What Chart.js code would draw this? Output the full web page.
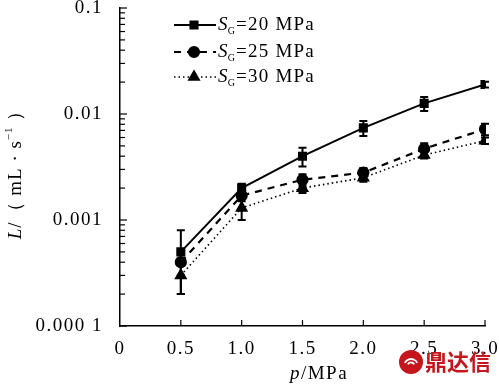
<!DOCTYPE html>
<html>
<head>
<meta charset="utf-8">
<script src="https://cdn.jsdelivr.net/npm/chart.js@4.4.1/dist/chart.umd.min.js"></script>
<style>
  html, body { margin: 0; padding: 0; background: #fff; }
  #wrap { width: 499px; height: 386px; position: relative; }
</style>
</head>
<body>
<div id="wrap"><canvas id="FlowChart"></canvas></div>
<script>
// pressure p / MPa
const pressures = [0.5, 1.0, 1.5, 2.0, 2.5, 3.0];

// leakage L / (mL/s) for each confining pressure S_G
const flow20 = [0.0005, 0.0020, 0.0040, 0.0074, 0.0126, 0.0190];
const err20 = [0.0003, 0.0002, 0.0008, 0.0012, 0.0019, 0.0012];
const flow25 = [0.0004, 0.0017, 0.0024, 0.0028, 0.0047, 0.0072];
const err25 = [0.0001, 0.0002, 0.0003, 0.0003, 0.0006, 0.0009];
const flow30 = [0.0003, 0.0013, 0.0020, 0.0025, 0.0041, 0.0056];
const err30 = [0.0001, 0.0003, 0.0002, 0.0002, 0.0003, 0.0004];

const seriesNames = ["20 MPa", "25 MPa", "30 MPa"];
const yTickLabels = { "0.1": "0.1", "0.01": "0.01", "0.001": "0.001", "0.0001": "0.000 1" };

const serif = "'Liberation Serif', 'DejaVu Serif', serif";

function toPoints(vals) {
  return vals.map((v, i) => ({ x: pressures[i], y: v }));
}

// the reference type is a wide Times, so spread the letters a little
const spacing = {
  id: "spacing",
  beforeLayout(chart) { chart.ctx.letterSpacing = "1.5px"; },
  beforeDraw(chart) { chart.ctx.letterSpacing = "1.5px"; },
};

// error bars, inward ticks, legend and axis titles
const extras = {
  id: "extras",
  afterDatasetsDraw(chart) {
    const c = chart.ctx;
    const xs = chart.scales.x;
    const ys = chart.scales.y;
    const area = chart.chartArea;
    const errs = [err20, err25, err30];

    c.save();
    c.strokeStyle = "#000";
    c.lineWidth = 2;
    c.setLineDash([]);
    chart.data.datasets.forEach((ds, k) => {
      ds.data.forEach((pt, i) => {
        const e = errs[k][i];
        const px = xs.getPixelForValue(pt.x);
        const top = ys.getPixelForValue(pt.y + e);
        const bot = ys.getPixelForValue(pt.y - e);
        c.beginPath();
        c.moveTo(px, top); c.lineTo(px, bot);
        c.moveTo(px - 4, top); c.lineTo(px + 4, top);
        c.moveTo(px - 4, bot); c.lineTo(px + 4, bot);
        c.stroke();
      });
    });

    // inward ticks
    c.lineWidth = 1.2;
    ys.ticks.forEach(t => {
      const py = ys.getPixelForValue(t.value);
      const major = t.label !== "";
      c.beginPath();
      c.moveTo(area.left, py);
      c.lineTo(area.left + (major ? 7 : 5), py);
      c.stroke();
    });
    xs.ticks.forEach(t => {
      if (t.value === 0) return;
      const px = xs.getPixelForValue(t.value);
      c.beginPath();
      c.moveTo(px, area.bottom);
      c.lineTo(px, area.bottom - 6);
      c.stroke();
    });

    // legend
    const rows = [25, 52, 77];
    chart.data.datasets.forEach((ds, k) => {
      const y = rows[k];
      c.strokeStyle = "#000";
      c.lineWidth = ds.borderWidth;
      c.setLineDash(ds.borderDash || []);
      c.beginPath();
      c.moveTo(174, y); c.lineTo(216, y);
      c.stroke();
      c.setLineDash([]);
      Chart.helpers.drawPoint(c, {
        pointStyle: ds.pointStyle, radius: ds.pointRadius, borderWidth: 1
      }, 194, y);
      c.fillStyle = "#000";
      c.textBaseline = "middle";
      c.letterSpacing = "1.2px";
      c.font = "italic 19px " + serif;
      c.fillText("S", 218, y);
      const sw = c.measureText("S").width;
      c.font = "10px " + serif;
      c.fillText("G", 218 + sw - 1, y + 6);
      const gw = c.measureText("G").width;
      c.font = "19px " + serif;
      c.fillText("=" + seriesNames[k], 218 + sw + gw - 1, y);
    });

    // x title
    c.fillStyle = "#000";
    c.textBaseline = "middle";
    c.letterSpacing = "1.5px";
    c.font = "italic 19px " + serif;
    const pw = c.measureText("p").width;
    c.font = "19px " + serif;
    const rest = "/MPa";
    const rw = c.measureText(rest).width;
    let x0 = 319 - (pw + rw) / 2;
    c.font = "italic 19px " + serif;
    c.fillText("p", x0, 374);
    c.font = "19px " + serif;
    c.fillText(rest, x0 + pw, 374);

    // y title
    c.translate(16, 170);
    c.rotate(-Math.PI / 2);
    c.letterSpacing = "1px";
    c.font = "italic 19px " + serif;
    const lw = c.measureText("L").width;
    c.font = "19px " + serif;
    const t1 = "/\uFF08 mL \u00B7 s";
    const t1w = c.measureText(t1).width;
    c.font = "11px " + serif;
    const supw = c.measureText("\u22121").width;
    c.font = "19px " + serif;
    const t2 = " \uFF09";
    const t2w = c.measureText(t2).width;
    let sx = -(lw + t1w + supw + t2w) / 2;
    c.font = "italic 19px " + serif;
    c.fillText("L", sx, 0); sx += lw;
    c.font = "19px " + serif;
    c.fillText(t1, sx, 0); sx += t1w;
    c.font = "11px " + serif;
    c.fillText("\u22121", sx, -7); sx += supw;
    c.font = "19px " + serif;
    c.fillText(t2, sx, 0);
    c.restore();

    // watermark
    c.save();
    c.letterSpacing = "0px";
    c.fillStyle = "#c4161c";
    c.beginPath();
    c.arc(411, 362, 12, 0, Math.PI * 2);
    c.fill();
    c.strokeStyle = "#fff";
    c.lineWidth = 1.8;
    c.beginPath();
    c.arc(411, 366, 7, Math.PI * 1.15, Math.PI * 1.85);
    c.stroke();
    c.beginPath();
    c.arc(411, 366, 3.5, Math.PI * 1.15, Math.PI * 1.85);
    c.stroke();
    c.font = "bold 22px 'Noto Sans CJK SC', sans-serif";
    c.textBaseline = "middle";
    c.fillText("\u9F0E\u8FBE\u4FE1", 425, 362);
    c.restore();
  }
};

const ctx = document.getElementById("FlowChart");

new Chart(ctx, {
  type: "line",
  data: {
    datasets: [
      {
        label: "SG=20 MPa",
        data: toPoints(flow20),
        borderColor: "#000",
        backgroundColor: "#000",
        borderWidth: 2,
        pointStyle: "rect",
        pointRadius: 5,
      },
      {
        label: "SG=25 MPa",
        data: toPoints(flow25),
        borderColor: "#000",
        backgroundColor: "#000",
        borderWidth: 2.2,
        borderDash: [7, 6],
        pointStyle: "circle",
        pointRadius: 5,
      },
      {
        label: "SG=30 MPa",
        data: toPoints(flow30),
        borderColor: "#000",
        backgroundColor: "#000",
        borderWidth: 1.6,
        borderDash: [1.5, 3],
        pointStyle: "triangle",
        pointRadius: 6,
      },
    ],
  },
  options: {
    responsive: true,
    maintainAspectRatio: false,
    animation: false,
    layout: { padding: { left: 0, right: 14, top: 8, bottom: 0 } },
    plugins: {
      legend: { display: false },
      tooltip: { enabled: false },
    },
    scales: {
      x: {
        type: "linear",
        min: 0,
        max: 3,
        grid: { display: false },
        border: { display: true, color: "#000", width: 1.5 },
        ticks: {
          stepSize: 0.5,
          color: "#000",
          padding: 4,
          font: { family: serif, size: 19 },
          callback: v => (v === 0 ? "0" : v.toFixed(1)),
        },
        afterFit: s => { s.height = 60; s.paddingLeft = 0; s.paddingRight = 0; },
      },
      y: {
        type: "logarithmic",
        min: 0.0001,
        max: 0.1,
        grid: { display: false },
        border: { display: true, color: "#000", width: 1.5 },
        afterBuildTicks: s => {
          const ticks = [];
          [0.0001, 0.001, 0.01].forEach(d => {
            for (let m = 1; m < 10; m++) ticks.push({ value: +(m * d).toPrecision(3) });
          });
          ticks.push({ value: 0.1 });
          s.ticks = ticks;
        },
        ticks: {
          color: "#000",
          padding: 9,
          autoSkip: false,
          font: { family: serif, size: 19 },
          callback: v => yTickLabels[String(v)] || "",
        },
        afterFit: s => { s.width = 120; s.paddingTop = 0; s.paddingBottom = 0; },
      },
    },
  },
  plugins: [spacing, extras],
});
</script>
</body>
</html>
